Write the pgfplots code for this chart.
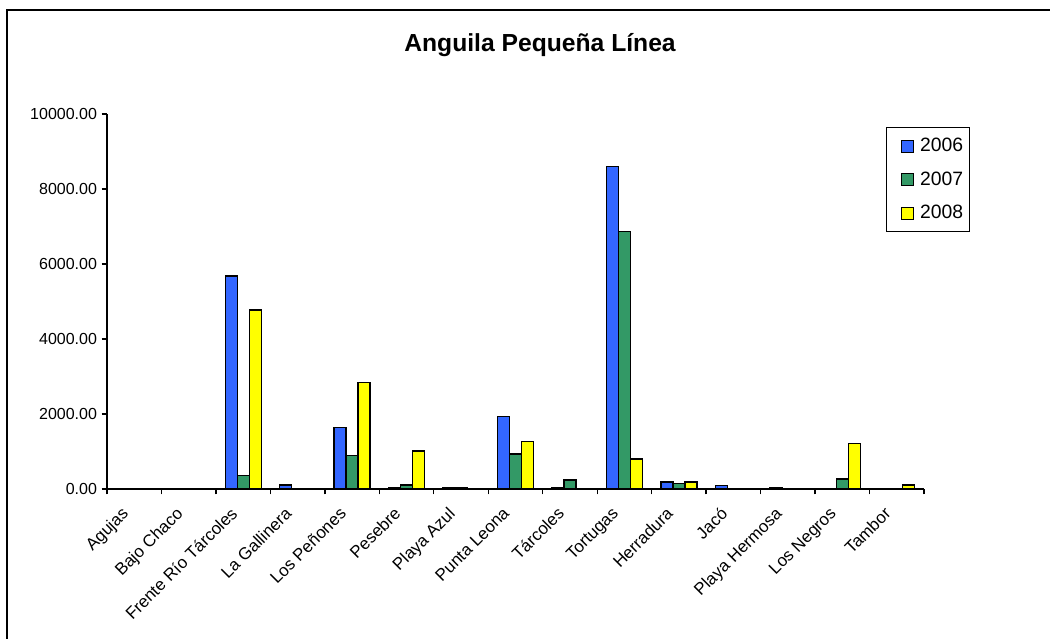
\documentclass[border=0pt]{standalone}
\usepackage{fontspec}
\setmainfont{Liberation Sans}
\usepackage{pgfplots}
\pgfplotsset{compat=1.18}

\definecolor{s2006}{HTML}{3366FF}
\definecolor{s2007}{HTML}{339966}
\definecolor{s2008}{HTML}{FFFF00}

\begin{document}
\begin{tikzpicture}
% page frame, 1 px = 0.75pt
\begin{scope}[x=0.75pt,y=-0.75pt]
\useasboundingbox (0,0) rectangle (1050,639);
\draw[line width=1.5pt] (7,639) -- (7,10) -- (1050,10);
\end{scope}

\begin{axis}[
at={(80.25pt,-366.75pt)}, anchor=south west,
scale only axis,
width=612.75pt, height=281.25pt,
xmin=-0.5, xmax=14.5,
ymin=0, ymax=10000,
axis x line*=bottom,
axis y line*=left,
axis line style={-, line width=1pt},
ybar=0pt,
bar width=9pt,
xtick={0,...,14},
xticklabels={Agujas,Bajo Chaco,Frente Río Tárcoles,La Gallinera,Los Peñones,Pesebre,Playa Azul,Punta Leona,Tárcoles,Tortugas,Herradura,Jacó,Playa Hermosa,Los Negros,Tambor},
minor xtick={-0.5,0.5,...,14.5},
ytick={0,2000,...,10000},
tick align=outside,
major x tick style={draw=none},
minor tick length=4pt,
major tick length=4pt,
tick style={black, line width=1pt},
xticklabel style={rotate=45, anchor=north east, xshift=-10pt, yshift=4.5pt,
  font=\fontsize{12.7}{15}\selectfont},
yticklabel style={font=\fontsize{12}{14}\selectfont},
/pgf/number format/.cd, fixed, fixed zerofill, precision=2, 1000 sep={}, assume math mode=true,
/pgfplots/.cd,
scaled y ticks=false,
clip=false,
legend style={at={(0.9535,0.965)}, anchor=north west, draw=black, line width=1pt,
  font=\fontsize{14.5}{17}\selectfont, row sep=9.5pt, inner xsep=3pt, inner ysep=6pt},
legend cell align=left,
legend image code/.code={\path (0pt,0pt) (19pt,0pt);
  \draw[#1, line width=0.75pt] (7.5pt,-4.5pt) rectangle (16.5pt,4.5pt);},
]

\addplot[fill=s2006, draw=black, line width=1pt] coordinates {
 (2,5680) (3,107) (4,1635) (5,35) (6,25) (7,1929) (8,35) (9,8595) (10,187) (11,98) (12,25)
};
\addplot[fill=s2007, draw=black, line width=1pt] coordinates {
 (2,355) (4,890) (5,107) (6,25) (7,933) (8,240) (9,6862) (10,151) (13,267)
};
\addplot[fill=s2008, draw=black, line width=1pt] coordinates {
 (2,4770) (4,2835) (5,1013) (7,1262) (9,800) (10,187) (13,1219) (14,107)
};
\legend{2006,2007,2008}

\node[font=\bfseries\fontsize{18.5}{22}\selectfont] at (rel axis cs:0.53,1.184) {Anguila Pequeña Línea};
\end{axis}
\end{tikzpicture}
\end{document}
